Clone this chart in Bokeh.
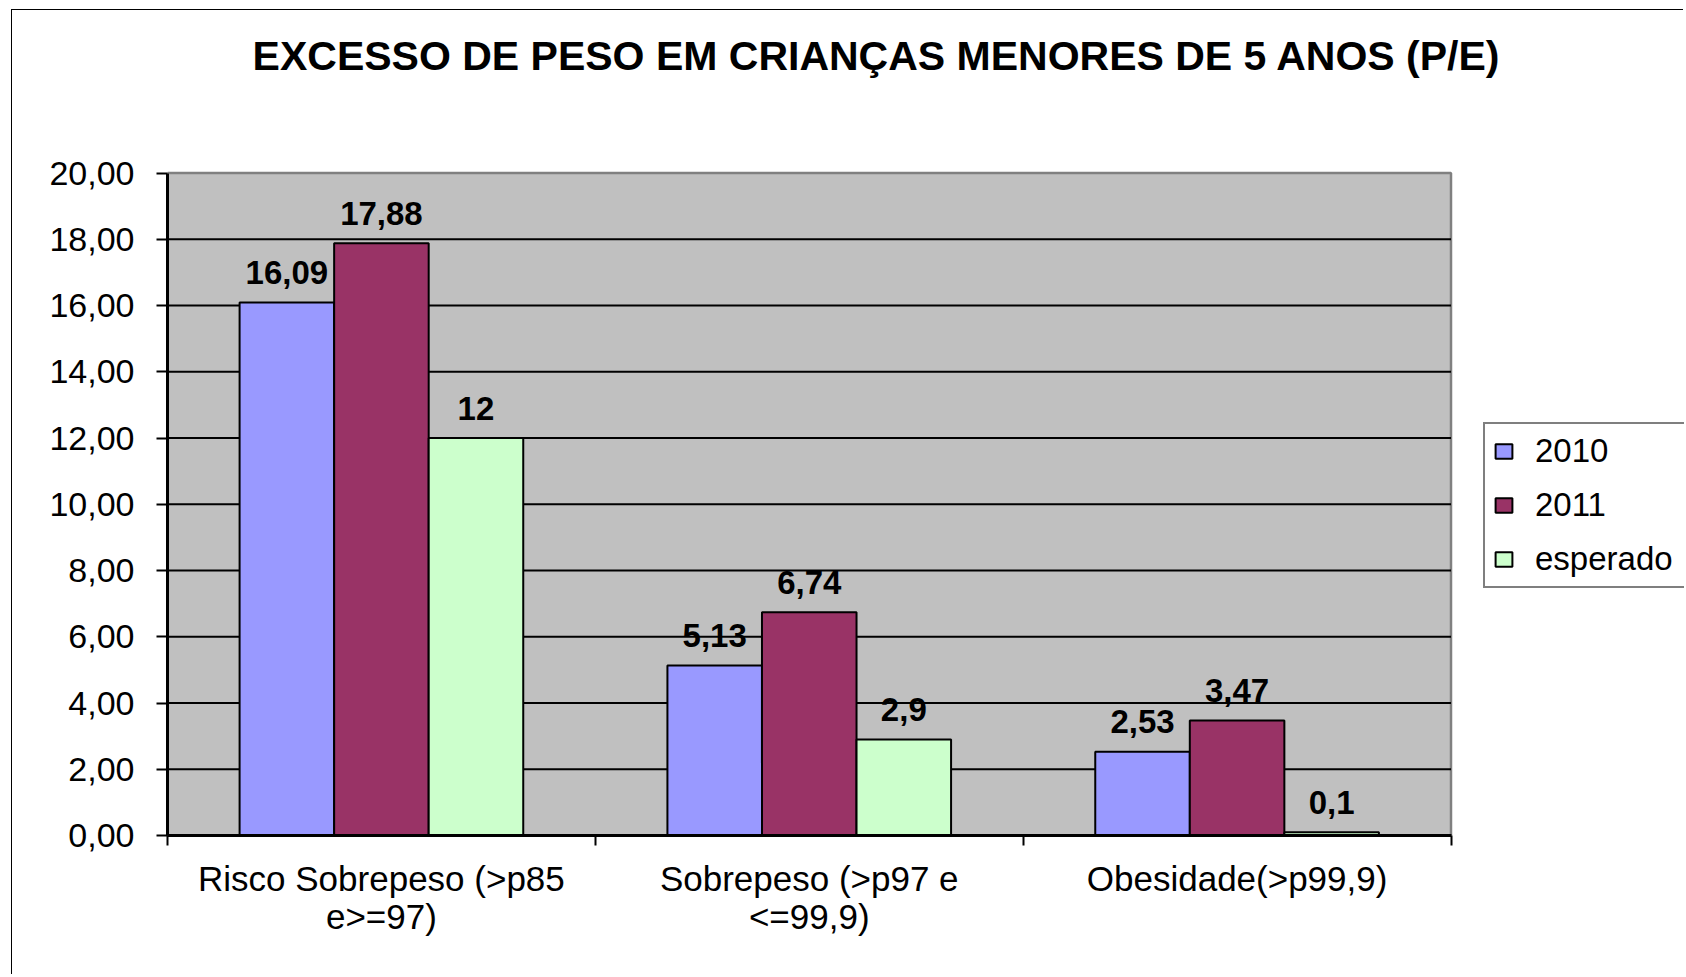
import numpy as np
from bokeh.plotting import figure
from bokeh.models import (Range1d, FixedTicker, Legend, LegendItem, Label)
from bokeh.core.properties import value
from bokeh.embed import file_html
from bokeh.resources import INLINE

# ---- data ----
title_text = "EXCESSO DE PESO EM CRIANÇAS  MENORES DE 5 ANOS (P/E)"
categories = ["Risco Sobrepeso (>p85\ne>=97)", "Sobrepeso (>p97 e\n<=99,9)", "Obesidade(>p99,9)"]
series_names = ["2010", "2011", "esperado"]
values_2010 = [16.09, 5.13, 2.53]
values_2011 = [17.88, 6.74, 3.47]
values_esperado = [12.0, 2.9, 0.1]
labels_2010 = ["16,09", "5,13", "2,53"]
labels_2011 = ["17,88", "6,74", "3,47"]
labels_esperado = ["12", "2,9", "0,1"]
y_ticks = [0, 2, 4, 6, 8, 10, 12, 14, 16, 18, 20]
y_tick_labels = ["0,00", "2,00", "4,00", "6,00", "8,00", "10,00", "12,00", "14,00", "16,00", "18,00", "20,00"]
colors = ["#9999FF", "#993366", "#CCFFCC"]

FONT = "Liberation Sans"

# ---- layout (pixels) ----
W, H = 1672, 965
BORDER_L, BORDER_B = 155, 140
FRAME_W, FRAME_H = W - BORDER_L, H - BORDER_B
PLOT_W, PLOT_H = 1283.5, 662.5          # size of the grey plot area inside the frame
n_cat = len(categories)
y_max = y_ticks[-1]
x_end = n_cat * FRAME_W / PLOT_W
y_end = y_max * FRAME_H / PLOT_H

p = figure(width=W, height=H, x_range=Range1d(0, x_end), y_range=Range1d(0, y_end),
           output_backend="svg", toolbar_location=None,
           min_border=0, min_border_left=BORDER_L, min_border_bottom=BORDER_B,
           min_border_right=0, min_border_top=0,
           background_fill_color="white", border_fill_color="white",
           outline_line_color=None)
p.styles = {"margin-left": "11px", "margin-top": "9px",
            "border-left": "1.5px solid black", "border-top": "1.5px solid black"}

# grey plot area
p.quad(left=0, right=n_cat, bottom=0, top=y_max, fill_color="#C0C0C0",
       line_color="#808080", line_width=2.5)
# horizontal grid lines
grid_vals = y_ticks[1:-1]
p.segment(x0=[0] * len(grid_vals), x1=[n_cat] * len(grid_vals), y0=grid_vals, y1=grid_vals,
          line_color="black", line_width=2)

centers = np.arange(n_cat) + 0.5
bw = 0.221
offsets = [-bw, 0.0, bw]
all_vals = [values_2010, values_2011, values_esperado]
all_labels = [labels_2010, labels_2011, labels_esperado]

renderers = []
for i in range(3):
    xs = centers + offsets[i]
    r = p.vbar(x=xs, top=all_vals[i], width=bw, bottom=0,
               fill_color=colors[i], line_color="black", line_width=2)
    renderers.append(r)
    p.text(x=xs, y=all_vals[i], text=all_labels[i], text_align="center",
           text_baseline="alphabetic", y_offset=-30,
           text_font=value(FONT), text_font_size="33px", text_font_style="bold",
           text_color="black")

# y axis
p.yaxis.ticker = FixedTicker(ticks=y_ticks)
p.yaxis.bounds = (0, y_max)
p.yaxis.major_label_overrides = {t: l for t, l in zip(y_ticks, y_tick_labels)}
p.yaxis.major_label_text_font = FONT
p.yaxis.major_label_text_font_size = "34px"
p.yaxis.major_label_text_color = "black"
p.yaxis.axis_line_width = 3
p.yaxis.axis_line_color = "black"
p.yaxis.major_tick_out = 11
p.yaxis.major_tick_in = 0
p.yaxis.minor_tick_out = 0
p.yaxis.minor_tick_in = 0
p.yaxis.major_tick_line_width = 2
p.yaxis.major_tick_line_color = "black"
p.yaxis.major_label_standoff = 22

# x axis
p.xaxis.ticker = FixedTicker(ticks=list(centers), minor_ticks=list(range(n_cat + 1)))
p.xaxis.bounds = (0, n_cat)
p.xaxis.major_label_overrides = {float(c): lab for c, lab in zip(centers, categories)}
p.xaxis.major_label_text_font = FONT
p.xaxis.major_label_text_font_size = "35px"
p.xaxis.major_label_text_color = "black"
p.xaxis.major_label_text_line_height = 0.98
p.xaxis.axis_line_width = 3
p.xaxis.axis_line_color = "black"
p.xaxis.major_tick_out = 0
p.xaxis.major_tick_in = 0
p.xaxis.minor_tick_out = 10
p.xaxis.minor_tick_in = 0
p.xaxis.minor_tick_line_width = 2
p.xaxis.minor_tick_line_color = "black"
p.xaxis.major_label_standoff = 13

p.xgrid.visible = False
p.ygrid.visible = False

# legend (inside the frame, to the right of the grey area; cut off at the right edge)
legend = Legend(items=[LegendItem(label=series_names[i], renderers=[renderers[i]]) for i in range(3)],
                location=(1316, 247), orientation="vertical",
                label_text_font=FONT, label_text_font_size="33px", label_text_color="black",
                glyph_width=21, glyph_height=18, label_standoff=21, label_width=160,
                padding=8, spacing=16, margin=0,
                border_line_color="black", border_line_width=2,
                background_fill_color="white", background_fill_alpha=1.0)
p.add_layout(legend, "center")

# title
p.add_layout(Label(x=715, y=780, x_units="screen", y_units="screen", text=title_text,
                   text_align="center", text_baseline="alphabetic",
                   text_font=FONT, text_font_size="41px", text_font_style="bold",
                   text_color="black"))

open("out.html", "w").write(file_html(p, INLINE))
